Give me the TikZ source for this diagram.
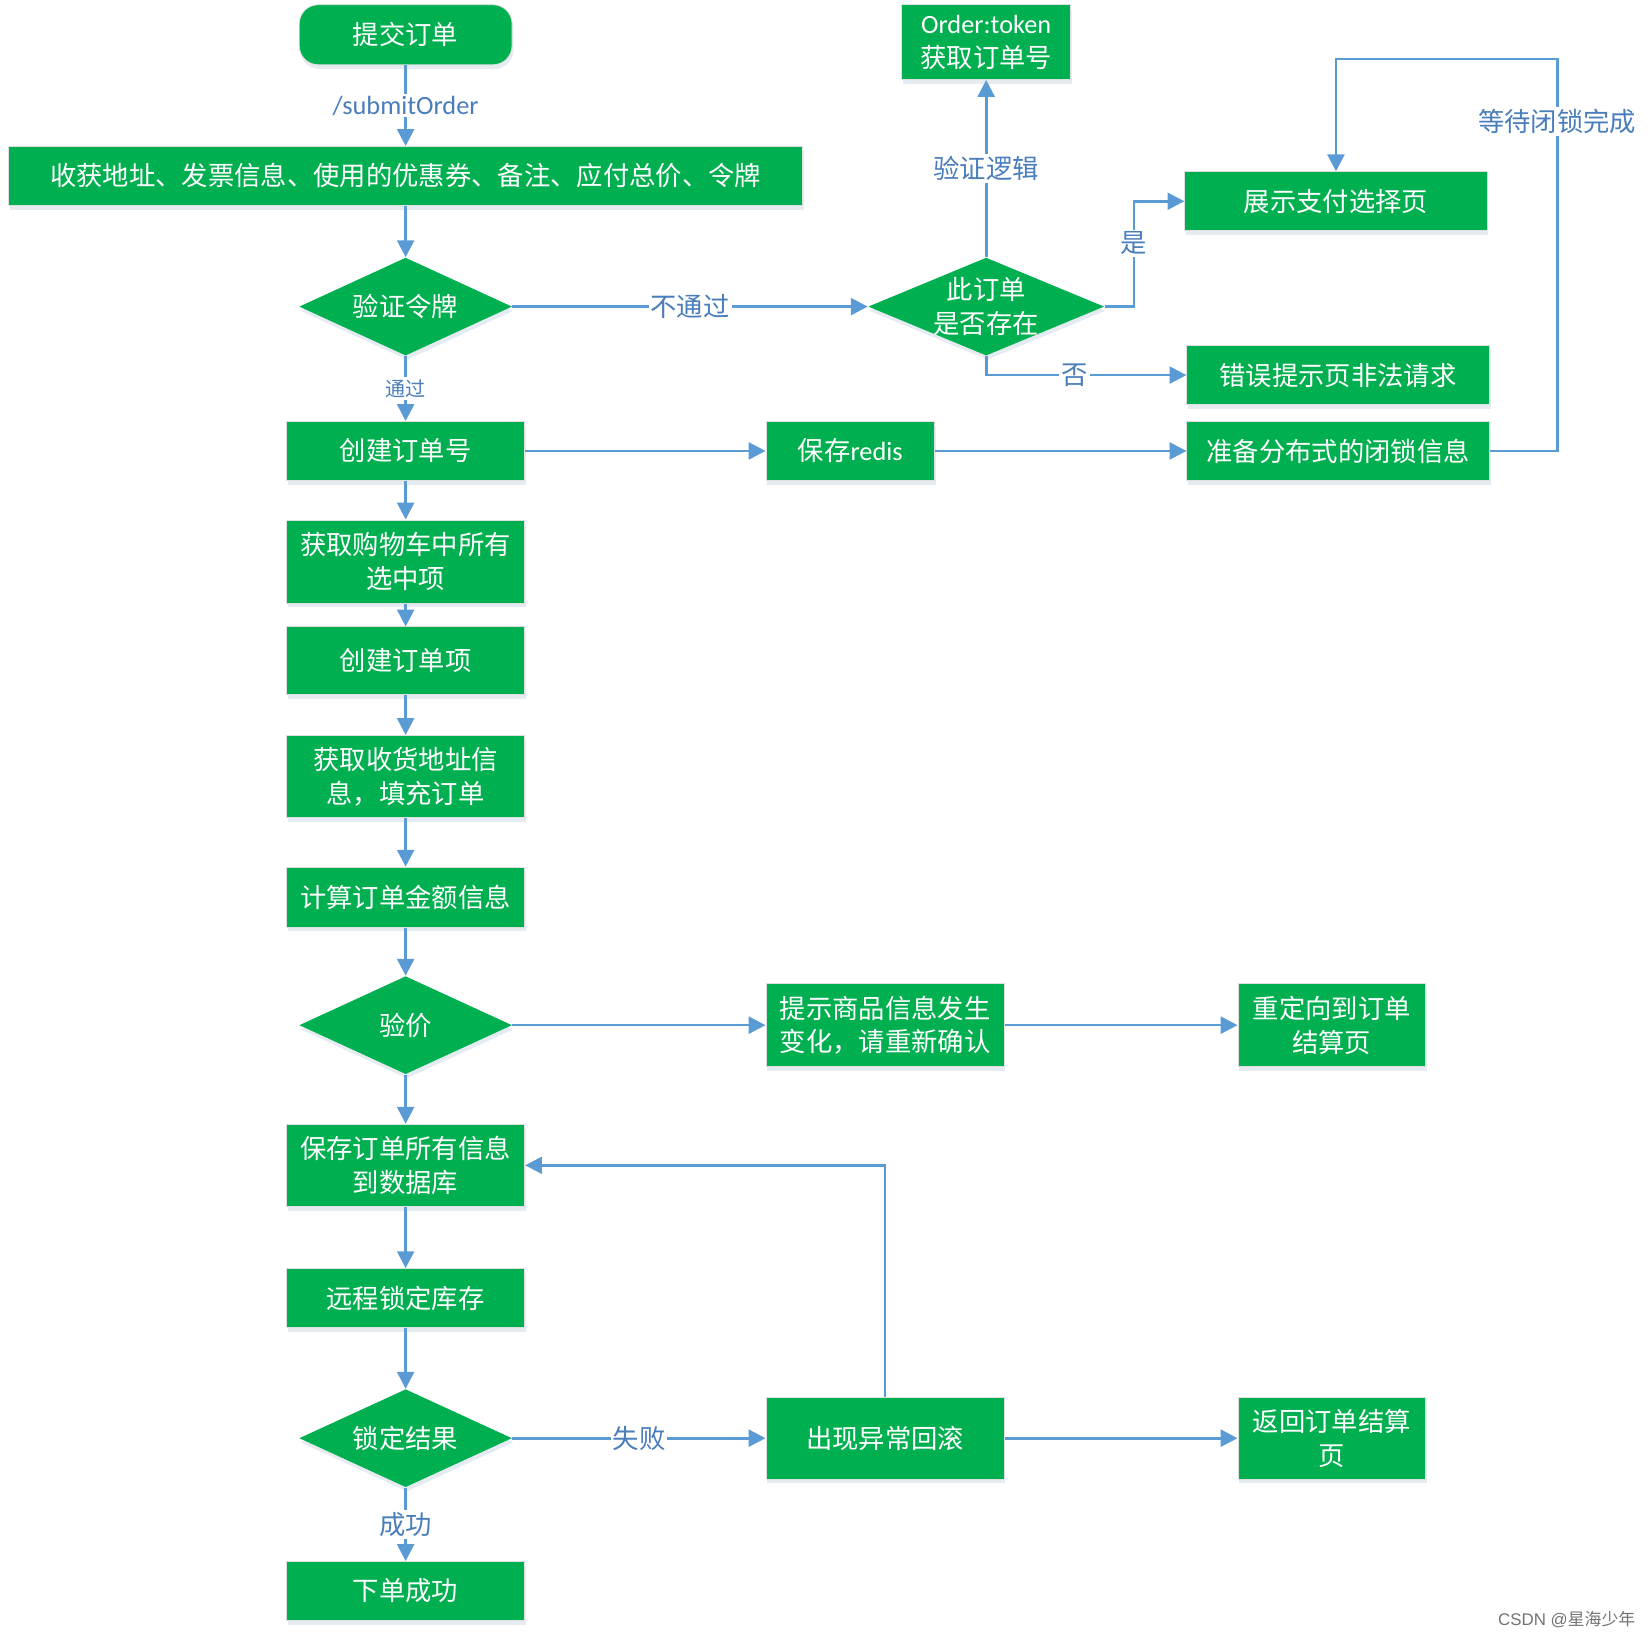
\documentclass[tikz,border=0pt]{standalone}
\usepackage{fontspec}
\setmainfont{Noto Sans CJK SC}
\newfontfamily\lat{Carlito}
\newfontfamily\wmfont{Liberation Sans}
\usetikzlibrary{shapes.geometric,arrows.meta,shadows}
\definecolor{boxgreen}{HTML}{00B050}
\definecolor{lineblue}{HTML}{5B9BD5}
\definecolor{textblue}{HTML}{4A7EBB}
\begin{document}
\begin{tikzpicture}[x=0.5pt,y=-0.5pt,proc/.style={shape=rectangle,fill=boxgreen,draw=black!12,line width=0.4pt,text=white,align=center,inner sep=0pt,font=\fontsize{12.5}{16}\selectfont,drop shadow={shadow xshift=0.6pt,shadow yshift=-2pt,fill=lineblue!60!gray,opacity=0.18}},term/.style={proc,rounded corners=9pt},dec/.style={proc,shape=diamond,draw=none,aspect=2.17,inner sep=-4pt,minimum width=101pt,minimum height=46.5pt},flow/.style={draw=lineblue,line width=1.25pt,-{Triangle[width=8pt,length=8pt]}},lbl/.style={fill=white,text=textblue,inner sep=1pt,font=\fontsize{12.5}{15}\selectfont},lblS/.style={lbl,font=\fontsize{9.5}{11}\selectfont}]
\def\colw{113pt}
\def\rowh{28pt}
\def\rowhh{39.5pt}
\def\sidew{143.5pt}

\useasboundingbox (0,0) rectangle (1567,1552);

\node[term,minimum width=101pt,minimum height=28.5pt] (submit) at (385,33) {提交订单};
\node[proc,minimum width=377pt,minimum height=\rowh] (info) at (385,167) {收获地址、发票信息、使用的优惠券、备注、应付总价、令牌};
\node[dec] (token) at (385,291) {验证令牌};

\node[proc,minimum width=80pt,minimum height=35.5pt] (getno) at (936,40) {{\lat Order:token}\\获取订单号};
\node[dec,aspect=2.41,minimum width=112pt] (exist) at (936,291) {此订单\\是否存在};
\node[proc,minimum width=\sidew,minimum height=\rowh] (pay) at (1268,191) {展示支付选择页};
\node[proc,minimum width=\sidew,minimum height=\rowh] (err) at (1270,356) {错误提示页非法请求};

\node[proc,minimum width=\colw,minimum height=\rowh] (orderno) at (385,428) {创建订单号};
\node[proc,minimum width=80pt,minimum height=\rowh] (redis) at (807,428) {保存{\lat redis}};
\node[proc,minimum width=\sidew,minimum height=\rowh] (latch) at (1270,428) {准备分布式的闭锁信息};

\node[proc,minimum width=\colw,minimum height=\rowhh] (cart) at (385,533) {获取购物车中所有\\选中项};
\node[proc,minimum width=\colw,minimum height=32pt] (items) at (385,627) {创建订单项};
\node[proc,minimum width=\colw,minimum height=39pt] (addr) at (385,737) {获取收货地址信\\息，填充订单};
\node[proc,minimum width=\colw,minimum height=28.5pt] (amount) at (385,851.5) {计算订单金额信息};
\node[dec] (price) at (385,973) {验价};
\node[proc,minimum width=\colw,minimum height=\rowhh] (changed) at (840,973) {提示商品信息发生\\变化，请重新确认};
\node[proc,minimum width=89pt,minimum height=\rowhh] (redirect) at (1264,973) {重定向到订单\\结算页};

\node[proc,minimum width=\colw,minimum height=39pt] (save) at (385,1106) {保存订单所有信息\\到数据库};
\node[proc,minimum width=\colw,minimum height=\rowh] (lock) at (385,1232) {远程锁定库存};
\node[dec] (result) at (385,1365) {锁定结果};
\node[proc,minimum width=\colw,minimum height=39pt] (rollback) at (840,1365) {出现异常回滚};
\node[proc,minimum width=89pt,minimum height=39pt] (back) at (1264,1365) {返回订单结算\\页};
\node[proc,minimum width=\colw,minimum height=\rowh] (done) at (385,1510) {下单成功};

\draw[flow] (submit) -- node[lbl]{\lat /submitOrder} (info);
\draw[flow] (info) -- (token);
\draw[flow] (token) -- node[lblS]{通过} (orderno);
\draw[flow] (token) -- node[lbl]{不通过} (exist);
\draw[flow] (exist) -- node[lbl]{验证逻辑} (getno);
\draw[flow] (exist.east) -- ++(28,0) |- node[lbl,pos=0.3]{是} (pay.west);
\draw[flow] (exist.south) |- node[lbl,pos=0.72]{否} (err.west);
\draw[flow] (orderno) -- (redis);
\draw[flow] (redis) -- (latch);
\coordinate (wait) at (1478,56);
\draw[flow] (latch.east) -| node[lbl,pos=0.92]{等待闭锁完成} (wait) -| (pay.north);

\draw[flow] (orderno) -- (cart);
\draw[flow] (cart) -- (items);
\draw[flow] (items) -- (addr);
\draw[flow] (addr) -- (amount);
\draw[flow] (amount) -- (price);
\draw[flow] (price) -- (changed);
\draw[flow] (changed) -- (redirect);
\draw[flow] (price) -- (save);
\draw[flow] (save) -- (lock);
\draw[flow] (lock) -- (result);
\draw[flow] (result) -- node[lbl]{失败} (rollback);
\draw[flow] (rollback) -- (back);
\draw[flow] (rollback.north) |- (save.east);
\draw[flow] (result) -- node[lbl]{成功} (done);

\node[text=black!55,font=\fontsize{8}{9}\selectfont] (mark) at (1487,1537) {{\wmfont CSDN @}星海少年};
\end{tikzpicture}
\end{document}
